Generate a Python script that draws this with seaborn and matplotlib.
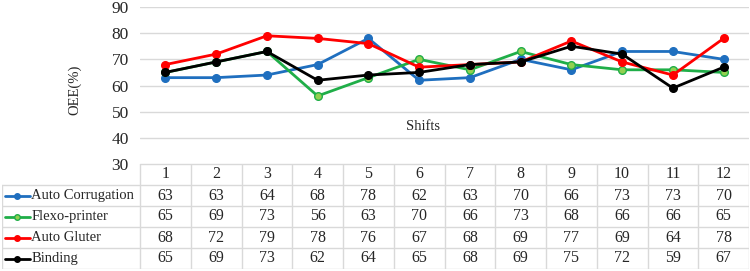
import numpy as np
import pandas as pd
import matplotlib
matplotlib.use('Agg')
import matplotlib.pyplot as plt
import seaborn as sns
from matplotlib.lines import Line2D

sns.set_theme(style='white')
plt.rcParams['font.family'] = ['Liberation Serif', 'DejaVu Serif']

## Data.
shifts = [1, 2, 3, 4, 5, 6, 7, 8, 9, 10, 11, 12]
machines = ['Auto Corrugation', 'Flexo-printer', 'Auto Gluter', 'Binding']
auto_corrugation = [63, 63, 64, 68, 78, 62, 63, 70, 66, 73, 73, 70]
flexo_printer = [65, 69, 73, 56, 63, 70, 66, 73, 68, 66, 66, 65]
auto_gluter = [68, 72, 79, 78, 76, 67, 68, 69, 77, 69, 64, 78]
binding = [65, 69, 73, 62, 64, 65, 68, 69, 75, 72, 59, 67]
series = [auto_corrugation, flexo_printer, auto_gluter, binding]
yticks = [30, 40, 50, 60, 70, 80, 90]

## Styles.
palette = ['#1f6fbf', '#1fae48', '#ff0000', '#000000']
facecolors = ['#1f6fbf', '#92d050', '#ff0000', '#000000']
gridcolor = '#d9d9d9'

df = pd.DataFrame({'shift': shifts * 4,
                   'machine': np.repeat(machines, len(shifts)),
                   'oee': np.concatenate(series)})

W, H = 750, 271
fig = plt.figure(figsize=(W / 100, H / 100), dpi=100)

def px(x0, y0, x1, y1):
    return [x0 / W, 1 - y1 / H, (x1 - x0) / W, (y1 - y0) / H]

## Line chart.
ax = fig.add_axes(px(140, 7, 749, 164))
for name, color, fc in zip(machines, palette, facecolors):
    sns.lineplot(data=df[df.machine == name], x='shift', y='oee', color=color, lw=2,
                 marker='o', markersize=5.5, markerfacecolor=fc, markeredgecolor=color,
                 markeredgewidth=1, ax=ax, legend=False)
ax.set(xlim=(0.5, 12.5), ylim=(30, 90), yticks=yticks, xticks=[], xlabel='', ylabel='')
ax.yaxis.grid(True, color=gridcolor, lw=1)
ax.set_axisbelow(True)
for s in ax.spines.values():
    s.set_visible(False)
ax.tick_params(axis='y', length=0, pad=8, labelsize=12.5)
ax.text(-0.107, 0.47, 'OEE(%)', transform=ax.transAxes, rotation=90,
        ha='center', va='center', fontsize=10.5)
ax.text(0.465, 0.24, 'Shifts', transform=ax.transAxes, ha='center', va='center', fontsize=10.5)

## Data table.
lab_w = 138 / 50.75
tx = fig.add_axes(px(2, 164, 749, 269))
tx.set(xlim=(0.5 - lab_w, 12.5), ylim=(4, -1))
tx.axis('off')
# horizontal lines
tx.plot([0.5, 12.5], [-1, -1], color=gridcolor, lw=1)
for r in range(0, 5):
    tx.plot([0.5 - lab_w, 12.5], [r, r], color=gridcolor, lw=1)
# vertical lines
tx.plot([0.5 - lab_w, 0.5 - lab_w], [0, 4], color=gridcolor, lw=1)
for c in np.arange(0.5, 13.5, 1):
    tx.plot([c, c], [-1, 4], color=gridcolor, lw=1)
for s in shifts:
    tx.text(s, -0.5, str(s), ha='center', va='center', fontsize=11.5)
for r, (name, vals, color, fc) in enumerate(zip(machines, series, palette, facecolors)):
    y = r + 0.5
    tx.add_line(Line2D([0.5 - lab_w + 0.06, 0.5 - lab_w + 0.55], [y, y], color=color, lw=2))
    tx.plot([0.5 - lab_w + 0.3], [y], marker='o', markersize=4, color=color, markerfacecolor=fc)
    tx.text(0.5 - lab_w + 0.58, y, name, ha='left', va='center', fontsize=10.5)
    for s, v in zip(shifts, vals):
        tx.text(s, y, str(v), ha='center', va='center', fontsize=11.5)

fig.savefig('out.png', dpi=100)
